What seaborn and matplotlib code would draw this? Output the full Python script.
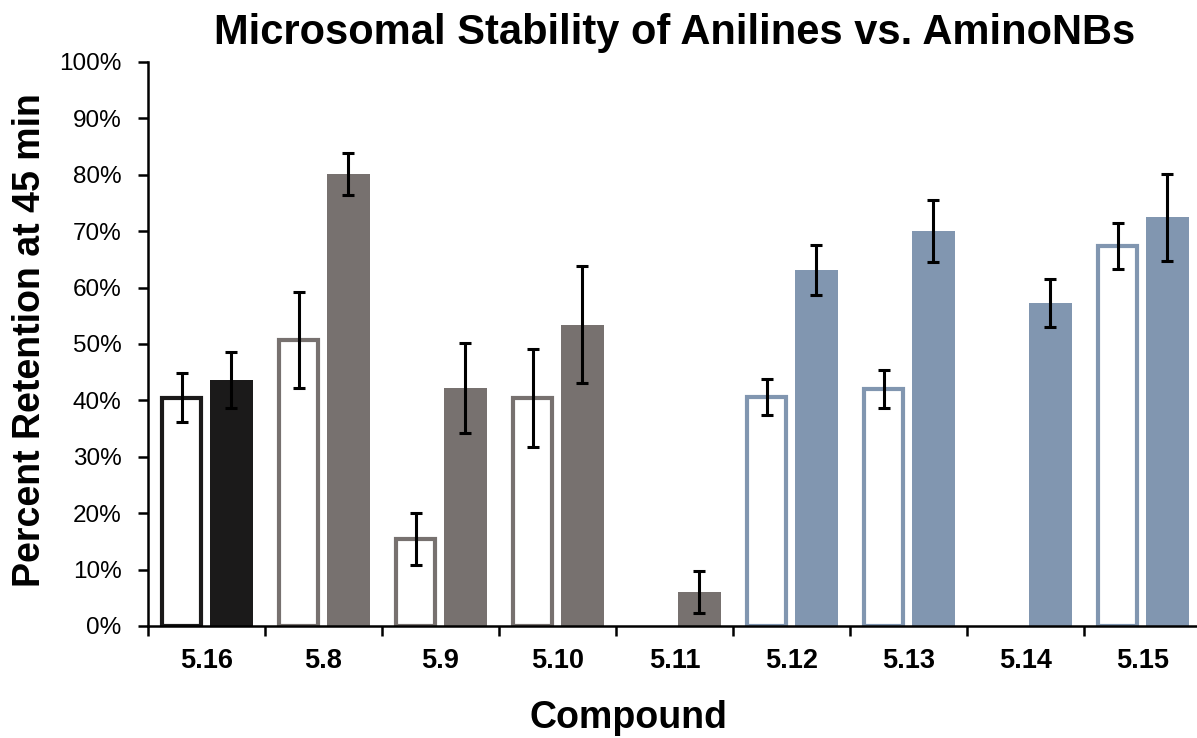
import numpy as np
import pandas as pd
import matplotlib
matplotlib.use("Agg")
import matplotlib.pyplot as plt
from matplotlib.ticker import FixedLocator, PercentFormatter
import seaborn as sns

# Compounds and percent retention after 45 min (aniline vs. aminoNB analogue)
compounds = ["5.16", "5.8", "5.9", "5.10", "5.11", "5.12", "5.13", "5.14", "5.15"]
aniline = [40.5, 50.7, 15.5, 40.4, np.nan, 40.6, 42.0, np.nan, 67.4]
aniline_err = [4.3, 8.5, 4.6, 8.7, np.nan, 3.2, 3.4, np.nan, 4.1]
aminonb = [43.6, 80.2, 42.2, 53.4, 6.0, 63.1, 70.0, 57.3, 72.5]
aminonb_err = [5.0, 3.7, 7.9, 10.4, 3.7, 4.4, 5.5, 4.3, 7.7]

# Colour family for each compound
group_colors = ["#1b1a1a", "#77716f", "#77716f", "#77716f", "#77716f",
                "#8196b0", "#8196b0", "#8196b0", "#8196b0"]

df = pd.DataFrame({
    "Compound": compounds * 2,
    "Series": ["Aniline"] * len(compounds) + ["AminoNB"] * len(compounds),
    "Retention": aniline + aminonb,
})

sns.set_theme(style="white")
plt.rcParams["font.family"] = ["Liberation Sans", "DejaVu Sans"]
plt.rcParams.update({"text.color": "black", "axes.labelcolor": "black",
                     "xtick.color": "black", "ytick.color": "black"})

fig = plt.figure(figsize=(11.97, 7.38), dpi=100)
ax = fig.add_axes([148 / 1197, 1 - 626 / 738, (1201 - 148) / 1197, (626 - 62) / 738])

sns.barplot(data=df, x="Compound", y="Retention", hue="Series",
            hue_order=["Aniline", "AminoNB"], order=compounds,
            width=0.85, gap=0.14, legend=False, ax=ax, saturation=1)

errs = {"Aniline": aniline_err, "AminoNB": aminonb_err}
vals = {"Aniline": aniline, "AminoNB": aminonb}
for patch in ax.patches:
    h = patch.get_height()
    if not np.isfinite(h) or h == 0:
        continue
    cx = patch.get_x() + patch.get_width() / 2
    idx = int(round(cx))
    series = "Aniline" if cx < idx else "AminoNB"
    col = group_colors[idx]
    if series == "Aniline":
        # open bar: white fill with a thick coloured outline
        w = patch.get_width()
        shrink = 0.034
        patch.set_x(patch.get_x() + shrink / 2)
        patch.set_width(w - shrink)
        patch.set_facecolor("white")
        patch.set_edgecolor(col)
        patch.set_linewidth(3.0)
    else:
        patch.set_facecolor(col)
        patch.set_edgecolor(col)
        patch.set_linewidth(0)
    ax.errorbar(cx, vals[series][idx], yerr=errs[series][idx], fmt="none",
                ecolor="black", elinewidth=2.2, capsize=4.6, capthick=2.2, zorder=5)

ax.set_ylim(0, 100)
ax.set_xlim(-0.5, 8.5)
ax.yaxis.set_major_locator(FixedLocator(np.arange(0, 101, 10)))
ax.yaxis.set_major_formatter(PercentFormatter(decimals=0))

# category separators as ticks, labels centred under each group
ax.xaxis.set_major_locator(FixedLocator(np.arange(-0.5, 9.0, 1.0)))
ax.set_xticklabels([])
ax.set_xticks(np.arange(0, 9), labels=compounds, minor=True)
ax.tick_params(axis="x", which="major", direction="out", length=7, width=1.8,
               color="black", bottom=True)
ax.tick_params(axis="x", which="minor", length=0, pad=16, labelsize=19.5)
for lbl in ax.get_xticklabels(minor=True):
    lbl.set_fontweight("bold")
ax.tick_params(axis="y", direction="out", length=7, width=1.8, color="black",
               left=True, labelsize=17.5, pad=12)

for side in ["top", "right"]:
    ax.spines[side].set_visible(False)
for side in ["left", "bottom"]:
    ax.spines[side].set_color("black")
    ax.spines[side].set_linewidth(1.8)

ax.set_xlabel("Compound", fontsize=27, fontweight="bold")
ax.xaxis.set_label_coords((628 - 148) / 1053, -(718 - 626) / 564)
ax.set_ylabel("Percent Retention at 45 min", fontsize=27, fontweight="bold")
ax.yaxis.set_label_coords(-(148 - 30) / 1053, (626 - 340) / 564)
ax.xaxis.label.set_va("center")
ax.yaxis.label.set_va("center")
fig.text(675 / 1197, 1 - 33 / 738, "Microsomal Stability of Anilines vs. AminoNBs",
         ha="center", va="center", fontsize=30, fontweight="bold")

fig.savefig("out.png", dpi=100)
